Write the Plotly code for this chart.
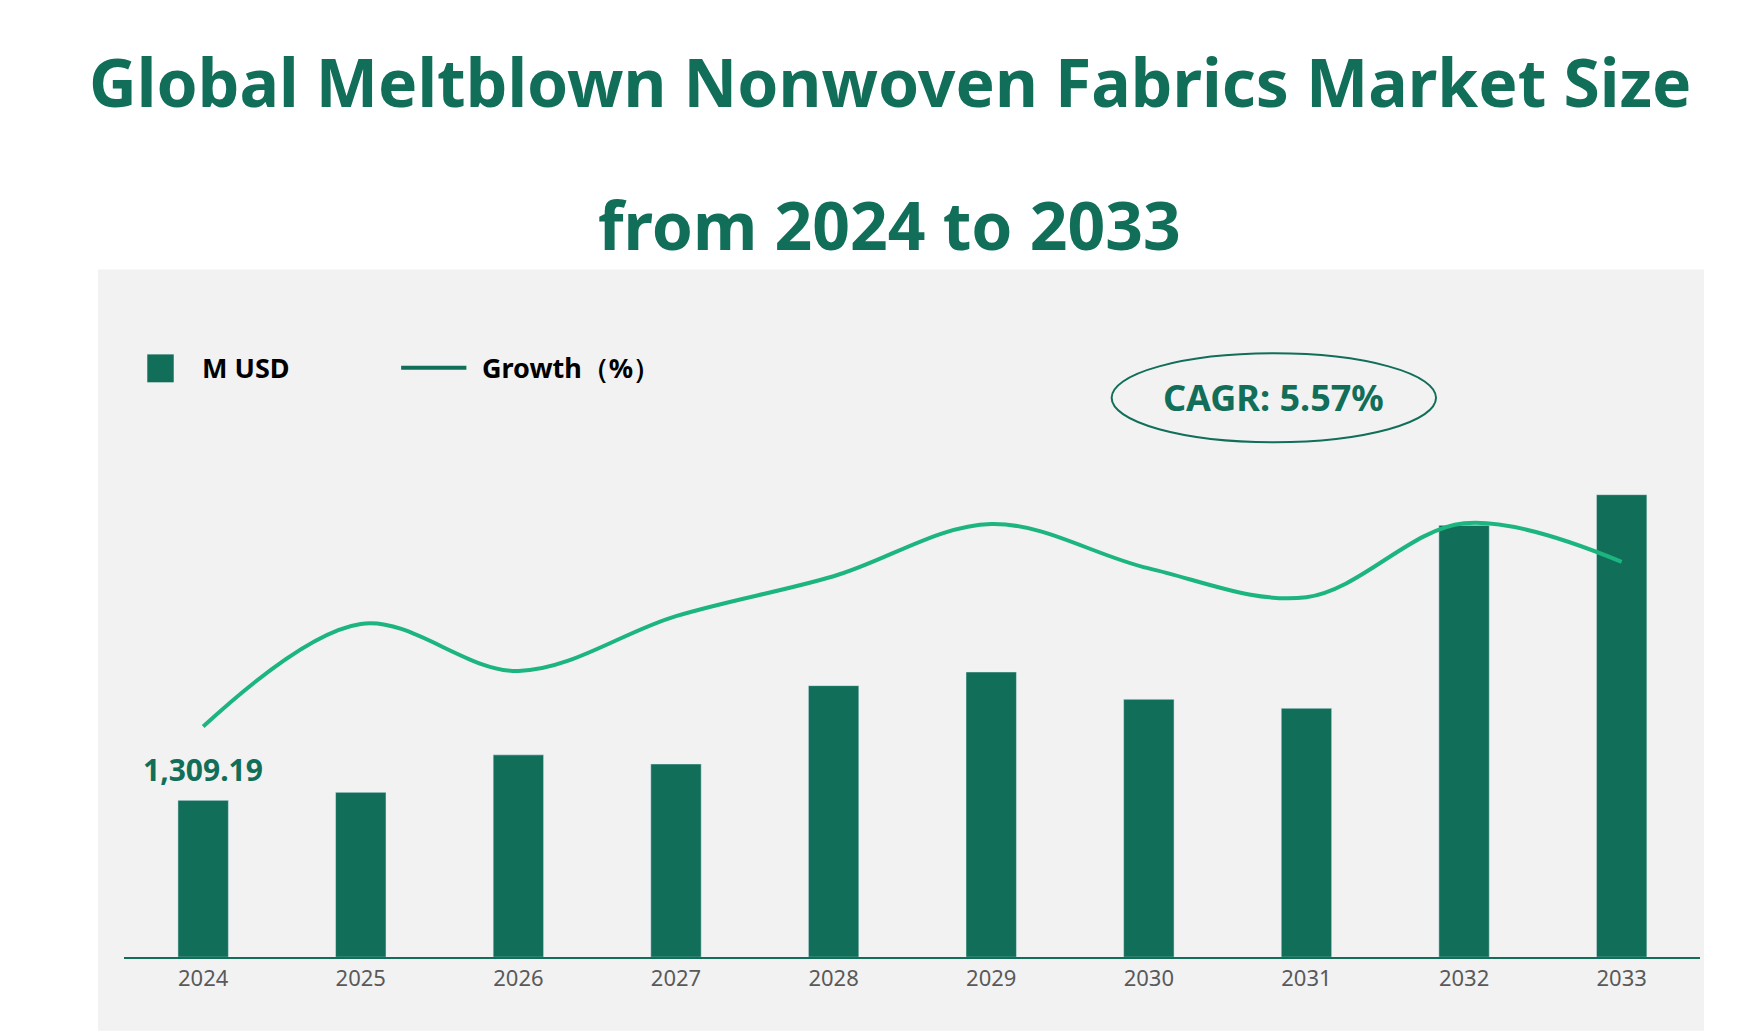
import plotly.graph_objects as go

years = [2024, 2025, 2026, 2027, 2028, 2029, 2030, 2031, 2032, 2033]
market_musd = [1309.19, 1376, 1689, 1613, 2267, 2381, 2153, 2078, 3605, 3861]
growth_pct = [3.53, 5.10, 4.38, 5.22, 5.83, 6.63, 5.95, 5.51, 6.64, 6.05]

dark = '#116e59'
light = '#1cb57f'

fig = go.Figure()
fig.add_trace(go.Bar(x=years, y=market_musd, marker_color=dark, width=0.32, yaxis='y'))
fig.add_trace(go.Scatter(x=years, y=growth_pct, mode='lines', yaxis='y2',
                         line=dict(color=light, width=4, shape='spline', smoothing=1.0)))

# 灰色背景
fig.add_shape(type='rect', xref='paper', yref='paper', x0=0.051, x1=0.962, y0=0.011, y1=0.747,
              fillcolor='#f2f2f2', line_width=0, layer='below')

# 범례 (수동)
fig.add_shape(type='rect', xref='paper', yref='paper', x0=0.079, x1=0.094, y0=0.638, y1=0.665,
              fillcolor=dark, line_width=0)
fig.add_shape(type='line', xref='paper', yref='paper', x0=0.223, x1=0.260, y0=0.652, y1=0.652,
              line=dict(color=dark, width=4))
fig.add_annotation(xref='paper', yref='paper', x=0.109, y=0.652, text='<b>M USD</b>', showarrow=False,
                   xanchor='left', yanchor='middle', font=dict(size=27, color='black'))
fig.add_annotation(xref='paper', yref='paper', x=0.268, y=0.652, text='<b>Growth（%）</b>', showarrow=False,
                   xanchor='left', yanchor='middle', font=dict(size=27, color='black'))

# CAGR 타원
fig.add_shape(type='circle', xref='paper', yref='paper', x0=0.626, x1=0.810, y0=0.580, y1=0.666,
              line=dict(color=dark, width=2))
fig.add_annotation(xref='paper', yref='paper', x=0.718, y=0.623, text='<b>CAGR: 5.57%</b>', showarrow=False,
                   xanchor='center', yanchor='middle', font=dict(size=36, color=dark))

# 첫 막대 라벨
fig.add_annotation(x=years[0], y=market_musd[0], xref='x', yref='y', text='<b>{:,.2f}</b>'.format(market_musd[0]),
                   showarrow=False, yanchor='bottom', yshift=8, font=dict(size=30, color=dark))

# 제목
fig.add_annotation(xref='paper', yref='paper', x=0.5, y=0.929, text='<b>Global Meltblown Nonwoven Fabrics Market Size</b>',
                   showarrow=False, xanchor='center', yanchor='middle', font=dict(size=66, color=dark))
fig.add_annotation(xref='paper', yref='paper', x=0.5, y=0.791, text='<b>from 2024 to 2033</b>',
                   showarrow=False, xanchor='center', yanchor='middle', font=dict(size=66, color=dark))

fig.update_layout(
    width=1763, height=1034, margin=dict(l=0, r=0, t=0, b=0),
    paper_bgcolor='white', plot_bgcolor='rgba(0,0,0,0)', showlegend=False,
    font=dict(family='Noto Sans'),
    xaxis=dict(domain=[0.066, 0.960], range=[2023.5, 2033.5], tickvals=years, ticktext=[str(y) for y in years],
               showline=True, linecolor=dark, linewidth=2, zeroline=False,
               tickfont=dict(size=22, color='#595959'), ticks='', showgrid=False),
    yaxis=dict(domain=[0.082, 0.714], range=[0, 5455], visible=False),
    yaxis2=dict(overlaying='y', range=[0, 10], visible=False),
)

fig.write_html('out.html')
